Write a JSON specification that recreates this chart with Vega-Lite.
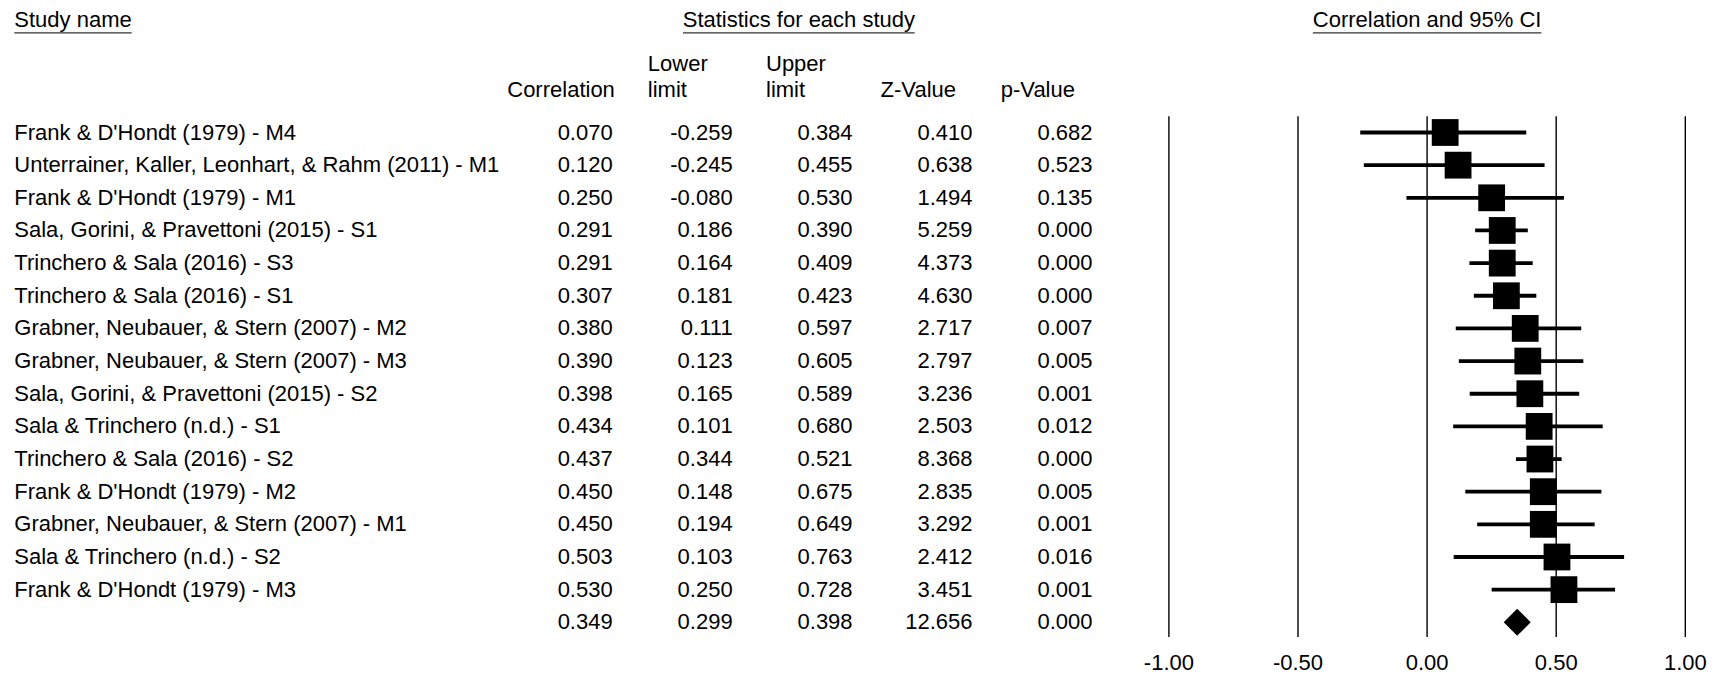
{
  "$schema": "https://vega.github.io/schema/vega-lite/v6.json",
  "width": 1722,
  "height": 678,
  "autosize": {"type": "none"},
  "padding": 0,
  "background": "white",
  "config": {
    "view": {"stroke": null},
    "text": {"font": "Liberation Sans", "fontSize": 22, "color": "#000000"},
    "locale": {"number": {"decimal": ".", "thousands": ",", "grouping": [3], "currency": ["$", ""], "minus": "-"}}
  },
  "datasets": {
    "studies": [
      {"row": 0, "kind": "study", "study": "Frank & D'Hondt (1979) - M4", "r": 0.070, "lo": -0.259, "hi": 0.384, "z": 0.410, "p": 0.682},
      {"row": 1, "kind": "study", "study": "Unterrainer, Kaller, Leonhart, & Rahm (2011) - M1", "r": 0.120, "lo": -0.245, "hi": 0.455, "z": 0.638, "p": 0.523},
      {"row": 2, "kind": "study", "study": "Frank & D'Hondt (1979) - M1", "r": 0.250, "lo": -0.080, "hi": 0.530, "z": 1.494, "p": 0.135},
      {"row": 3, "kind": "study", "study": "Sala, Gorini, & Pravettoni (2015) - S1", "r": 0.291, "lo": 0.186, "hi": 0.390, "z": 5.259, "p": 0.000},
      {"row": 4, "kind": "study", "study": "Trinchero & Sala (2016) - S3", "r": 0.291, "lo": 0.164, "hi": 0.409, "z": 4.373, "p": 0.000},
      {"row": 5, "kind": "study", "study": "Trinchero & Sala (2016) - S1", "r": 0.307, "lo": 0.181, "hi": 0.423, "z": 4.630, "p": 0.000},
      {"row": 6, "kind": "study", "study": "Grabner, Neubauer, & Stern (2007) - M2", "r": 0.380, "lo": 0.111, "hi": 0.597, "z": 2.717, "p": 0.007},
      {"row": 7, "kind": "study", "study": "Grabner, Neubauer, & Stern (2007) - M3", "r": 0.390, "lo": 0.123, "hi": 0.605, "z": 2.797, "p": 0.005},
      {"row": 8, "kind": "study", "study": "Sala, Gorini, & Pravettoni (2015) - S2", "r": 0.398, "lo": 0.165, "hi": 0.589, "z": 3.236, "p": 0.001},
      {"row": 9, "kind": "study", "study": "Sala & Trinchero (n.d.) - S1", "r": 0.434, "lo": 0.101, "hi": 0.680, "z": 2.503, "p": 0.012},
      {"row": 10, "kind": "study", "study": "Trinchero & Sala (2016) - S2", "r": 0.437, "lo": 0.344, "hi": 0.521, "z": 8.368, "p": 0.000},
      {"row": 11, "kind": "study", "study": "Frank & D'Hondt (1979) - M2", "r": 0.450, "lo": 0.148, "hi": 0.675, "z": 2.835, "p": 0.005},
      {"row": 12, "kind": "study", "study": "Grabner, Neubauer, & Stern (2007) - M1", "r": 0.450, "lo": 0.194, "hi": 0.649, "z": 3.292, "p": 0.001},
      {"row": 13, "kind": "study", "study": "Sala & Trinchero (n.d.) - S2", "r": 0.503, "lo": 0.103, "hi": 0.763, "z": 2.412, "p": 0.016},
      {"row": 14, "kind": "study", "study": "Frank & D'Hondt (1979) - M3", "r": 0.530, "lo": 0.250, "hi": 0.728, "z": 3.451, "p": 0.001},
      {"row": 15, "kind": "summary", "study": "", "r": 0.349, "lo": 0.299, "hi": 0.398, "z": 12.656, "p": 0.000}
    ],
    "ticks": [{"tick": -1}, {"tick": -0.5}, {"tick": 0}, {"tick": 0.5}, {"tick": 1}],
    "one": [{}]
  },
  "resolve": {"scale": {"x": "independent"}},
  "layer": [
    {
      "layer": [
        {
          "data": {"name": "studies"},
          "mark": {"type": "text", "align": "left", "baseline": "middle"},
          "encoding": {
            "x": {"datum": 0, "type": "quantitative", "scale": {"domain": [0, 1], "range": [14.3, 131.7], "nice": false, "zero": false}, "axis": null},
            "y": {"field": "row", "type": "quantitative", "scale": {"domain": [0, 15], "range": [132.5, 622.3], "nice": false, "zero": false}, "axis": null},
            "text": {"field": "study"}
          }
        },
        {
          "data": {"name": "one"},
          "mark": {"type": "text", "text": "Study name", "align": "left", "baseline": "middle"},
          "encoding": {
            "x": {"datum": 0, "type": "quantitative"},
            "y": {"datum": -3.45, "type": "quantitative"}
          }
        },
        {
          "data": {"name": "one"},
          "mark": {"type": "rule", "strokeWidth": 1.2, "color": "#333333"},
          "encoding": {
            "x": {"datum": 0, "type": "quantitative"},
            "x2": {"datum": 1},
            "y": {"datum": -3.05, "type": "quantitative"}
          }
        }
      ]
    },
    {
      "layer": [
        {
          "data": {"name": "studies"},
          "mark": {"type": "text", "align": "right", "baseline": "middle"},
          "encoding": {
            "x": {"datum": 0, "type": "quantitative", "scale": {"domain": [0, 4], "range": [612.7, 1092.5], "nice": false, "zero": false}, "axis": null},
            "y": {"field": "row", "type": "quantitative"},
            "text": {"field": "r", "type": "quantitative", "format": ".3f"}
          }
        },
        {
          "data": {"name": "studies"},
          "mark": {"type": "text", "align": "right", "baseline": "middle"},
          "encoding": {
            "x": {"datum": 1, "type": "quantitative"},
            "y": {"field": "row", "type": "quantitative"},
            "text": {"field": "lo", "type": "quantitative", "format": ".3f"}
          }
        },
        {
          "data": {"name": "studies"},
          "mark": {"type": "text", "align": "right", "baseline": "middle"},
          "encoding": {
            "x": {"datum": 2, "type": "quantitative"},
            "y": {"field": "row", "type": "quantitative"},
            "text": {"field": "hi", "type": "quantitative", "format": ".3f"}
          }
        },
        {
          "data": {"name": "studies"},
          "mark": {"type": "text", "align": "right", "baseline": "middle"},
          "encoding": {
            "x": {"datum": 3, "type": "quantitative"},
            "y": {"field": "row", "type": "quantitative"},
            "text": {"field": "z", "type": "quantitative", "format": ".3f"}
          }
        },
        {
          "data": {"name": "studies"},
          "mark": {"type": "text", "align": "right", "baseline": "middle"},
          "encoding": {
            "x": {"datum": 4, "type": "quantitative"},
            "y": {"field": "row", "type": "quantitative"},
            "text": {"field": "p", "type": "quantitative", "format": ".3f"}
          }
        },
        {
          "data": {"name": "one"},
          "mark": {"type": "text", "text": "Statistics for each study", "align": "center", "baseline": "middle"},
          "encoding": {
            "x": {"datum": 1.552, "type": "quantitative"},
            "y": {"datum": -3.45, "type": "quantitative"}
          }
        },
        {
          "data": {"name": "one"},
          "mark": {"type": "rule", "strokeWidth": 1.2, "color": "#333333"},
          "encoding": {
            "x": {"datum": 0.586, "type": "quantitative"},
            "x2": {"datum": 2.517},
            "y": {"datum": -3.05, "type": "quantitative"}
          }
        },
        {
          "data": {"name": "one"},
          "mark": {"type": "text", "text": "Correlation", "align": "right", "baseline": "middle"},
          "encoding": {
            "x": {"datum": 0.018, "type": "quantitative"},
            "y": {"datum": -1.3, "type": "quantitative"}
          }
        },
        {
          "data": {"name": "one"},
          "mark": {"type": "text", "text": ["Lower", "limit"], "align": "left", "baseline": "middle", "lineHeight": 26.3},
          "encoding": {
            "x": {"datum": 0.293, "type": "quantitative"},
            "y": {"datum": -2.107, "type": "quantitative"}
          }
        },
        {
          "data": {"name": "one"},
          "mark": {"type": "text", "text": ["Upper", "limit"], "align": "left", "baseline": "middle", "lineHeight": 26.3},
          "encoding": {
            "x": {"datum": 1.278, "type": "quantitative"},
            "y": {"datum": -2.107, "type": "quantitative"}
          }
        },
        {
          "data": {"name": "one"},
          "mark": {"type": "text", "text": "Z-Value", "align": "right", "baseline": "middle"},
          "encoding": {
            "x": {"datum": 2.862, "type": "quantitative"},
            "y": {"datum": -1.3, "type": "quantitative"}
          }
        },
        {
          "data": {"name": "one"},
          "mark": {"type": "text", "text": "p-Value", "align": "right", "baseline": "middle"},
          "encoding": {
            "x": {"datum": 3.854, "type": "quantitative"},
            "y": {"datum": -1.3, "type": "quantitative"}
          }
        }
      ]
    },
    {
      "layer": [
        {
          "data": {"name": "ticks"},
          "mark": {"type": "rule", "strokeWidth": 1.4, "color": "#000000"},
          "encoding": {
            "x": {"field": "tick", "type": "quantitative", "scale": {"domain": [-1, 1], "range": [1168.9, 1685.3], "nice": false, "zero": false}, "axis": null},
            "y": {"datum": -0.5, "type": "quantitative"},
            "y2": {"datum": 15.45}
          }
        },
        {
          "data": {"name": "ticks"},
          "mark": {"type": "text", "align": "center", "baseline": "middle"},
          "encoding": {
            "x": {"field": "tick", "type": "quantitative"},
            "y": {"datum": 16.26, "type": "quantitative"},
            "text": {"field": "tick", "type": "quantitative", "format": ".2f"}
          }
        },
        {
          "data": {"name": "studies"},
          "transform": [{"filter": "datum.kind === 'study'"}],
          "mark": {"type": "rule", "strokeWidth": 3.8, "color": "#000000"},
          "encoding": {
            "x": {"field": "lo", "type": "quantitative"},
            "x2": {"field": "hi"},
            "y": {"field": "row", "type": "quantitative"}
          }
        },
        {
          "data": {"name": "studies"},
          "transform": [{"filter": "datum.kind === 'study'"}],
          "mark": {"type": "square", "size": 718, "filled": true, "opacity": 1, "color": "#000000"},
          "encoding": {
            "x": {"field": "r", "type": "quantitative"},
            "y": {"field": "row", "type": "quantitative"}
          }
        },
        {
          "data": {"name": "studies"},
          "transform": [{"filter": "datum.kind === 'summary'"}],
          "mark": {"type": "point", "shape": "diamond", "size": 729, "filled": true, "opacity": 1, "color": "#000000"},
          "encoding": {
            "x": {"field": "r", "type": "quantitative"},
            "y": {"field": "row", "type": "quantitative"}
          }
        },
        {
          "data": {"name": "one"},
          "mark": {"type": "text", "text": "Correlation and 95% CI", "align": "center", "baseline": "middle"},
          "encoding": {
            "x": {"datum": 0, "type": "quantitative"},
            "y": {"datum": -3.45, "type": "quantitative"}
          }
        },
        {
          "data": {"name": "one"},
          "mark": {"type": "rule", "strokeWidth": 1.2, "color": "#333333"},
          "encoding": {
            "x": {"datum": -0.4425, "type": "quantitative"},
            "x2": {"datum": 0.4425},
            "y": {"datum": -3.05, "type": "quantitative"}
          }
        }
      ]
    }
  ]
}
